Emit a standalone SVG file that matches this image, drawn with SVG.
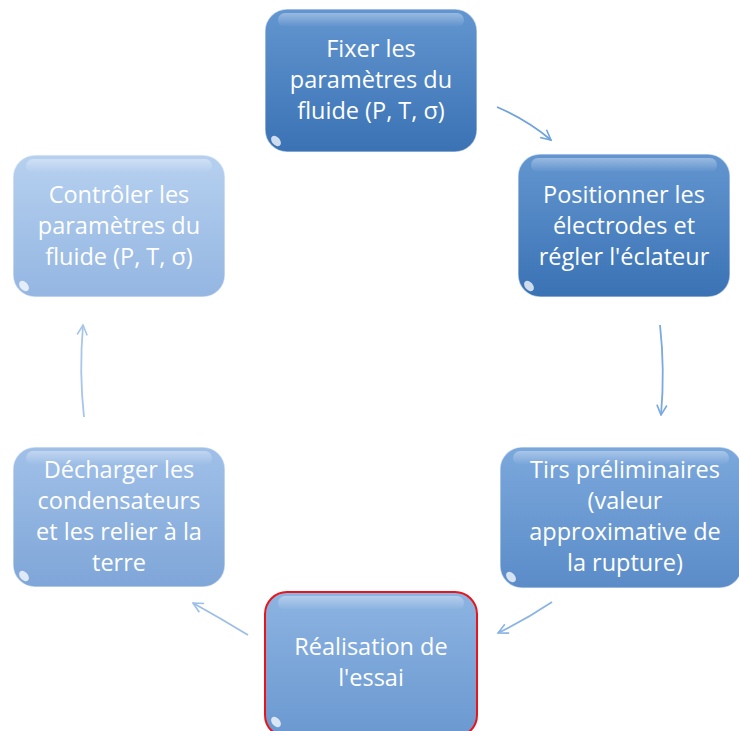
<svg xmlns="http://www.w3.org/2000/svg" width="739" height="731" viewBox="0 0 739 731">
<defs>
<linearGradient id="g1" x1="0" y1="0" x2="0" y2="1"><stop offset="0" stop-color="#6396d0"/><stop offset="1" stop-color="#3a72b4"/></linearGradient>
<linearGradient id="g3" x1="0" y1="0" x2="0" y2="1"><stop offset="0" stop-color="#7ba8dc"/><stop offset="1" stop-color="#5b8cc8"/></linearGradient>
<linearGradient id="g4" x1="0" y1="0" x2="0" y2="1"><stop offset="0" stop-color="#8db4e2"/><stop offset="1" stop-color="#6a98d0"/></linearGradient>
<linearGradient id="g6" x1="0" y1="0" x2="0" y2="1"><stop offset="0" stop-color="#a0c0e8"/><stop offset="1" stop-color="#7fa6d8"/></linearGradient>
<linearGradient id="g5" x1="0" y1="0" x2="0" y2="1"><stop offset="0" stop-color="#b6d0ef"/><stop offset="1" stop-color="#94b6e2"/></linearGradient>
<linearGradient id="gloss" x1="0" y1="0" x2="0" y2="1"><stop offset="0" stop-color="#ffffff" stop-opacity="0.35"/><stop offset="1" stop-color="#ffffff" stop-opacity="0"/></linearGradient>
<marker id="ah" viewBox="0 0 12 12" refX="11" refY="6" markerWidth="12" markerHeight="12" markerUnits="userSpaceOnUse" orient="auto"><path d="M1,1 L11,6 L1,11" fill="none" stroke="context-stroke" stroke-width="1.6"/></marker>
</defs>
<style>
.box{stroke:#ffffff;stroke-opacity:0.5;stroke-width:1.5}
.gl{fill:url(#gloss)}
.spot{fill:#ffffff;fill-opacity:0.75}
.t{font-family:"Open Sans","Liberation Sans",sans-serif;font-size:23.5px;fill:#ffffff;text-anchor:middle}
.c{fill:none;stroke-width:1.8}
</style>
<g id="connectors">
<path class="c" stroke="#6fa3da" d="M497,107 Q527,120 551,140" marker-end="url(#ah)"/>
<path class="c" stroke="#7aaade" d="M660,325 Q665,370 661,415" marker-end="url(#ah)"/>
<path class="c" stroke="#8ab4e3" d="M552,602 Q525,620 498,633" marker-end="url(#ah)"/>
<path class="c" stroke="#9cbfe8" d="M248,635 Q220,618 193,603" marker-end="url(#ah)"/>
<path class="c" stroke="#a8c6ea" d="M84,417 Q79,372 83,325" marker-end="url(#ah)"/>
</g>
<g id="n1">
<rect class="box" x="265" y="9" width="212" height="143" rx="22" fill="url(#g1)"/>
<rect class="gl" x="278" y="13" width="186" height="14" rx="7"/>
<ellipse class="spot" cx="276" cy="141" rx="4" ry="6" transform="rotate(-40 276 141)"/>
<text class="t" x="371" y="57">Fixer les</text>
<text class="t" x="371" y="88">paramètres du</text>
<text class="t" x="371" y="119">fluide (P, T, σ)</text>
</g>
<g id="n2">
<rect class="box" x="518" y="154" width="212" height="143" rx="22" fill="url(#g1)"/>
<rect class="gl" x="531" y="158" width="186" height="14" rx="7"/>
<ellipse class="spot" cx="529" cy="286" rx="4" ry="6" transform="rotate(-40 529 286)"/>
<text class="t" x="624" y="203">Positionner les</text>
<text class="t" x="624" y="234">électrodes et</text>
<text class="t" x="624" y="265">régler l'éclateur</text>
</g>
<g id="n3">
<rect class="box" x="500" y="447" width="242" height="141" rx="22" fill="url(#g3)"/>
<rect class="gl" x="513" y="451" width="216" height="14" rx="7"/>
<ellipse class="spot" cx="511" cy="577" rx="4" ry="6" transform="rotate(-40 511 577)"/>
<text class="t" x="625" y="478">Tirs préliminaires</text>
<text class="t" x="625" y="509">(valeur</text>
<text class="t" x="625" y="540">approximative de</text>
<text class="t" x="625" y="571">la rupture)</text>
</g>
<g id="n4">
<rect x="265" y="592" width="212" height="145" rx="22" fill="url(#g4)" stroke="#e8161b" stroke-width="2"/>
<rect class="gl" x="278" y="596" width="186" height="14" rx="7"/>
<ellipse class="spot" cx="276" cy="722" rx="4" ry="6" transform="rotate(-40 276 722)"/>
<text class="t" x="371" y="655">Réalisation de</text>
<text class="t" x="371" y="686">l'essai</text>
</g>
<g id="n6">
<rect class="box" x="13" y="447" width="212" height="140" rx="22" fill="url(#g6)"/>
<rect class="gl" x="26" y="451" width="186" height="14" rx="7"/>
<ellipse class="spot" cx="24" cy="576" rx="4" ry="6" transform="rotate(-40 24 576)"/>
<text class="t" x="119" y="478">Décharger les</text>
<text class="t" x="119" y="509">condensateurs</text>
<text class="t" x="119" y="540">et les relier à la</text>
<text class="t" x="119" y="571">terre</text>
</g>
<g id="n5">
<rect class="box" x="13" y="155" width="212" height="142" rx="22" fill="url(#g5)"/>
<rect class="gl" x="26" y="159" width="186" height="14" rx="7"/>
<ellipse class="spot" cx="24" cy="286" rx="4" ry="6" transform="rotate(-40 24 286)"/>
<text class="t" x="119" y="203">Contrôler les</text>
<text class="t" x="119" y="234">paramètres du</text>
<text class="t" x="119" y="265">fluide (P, T, σ)</text>
</g>
</svg>
